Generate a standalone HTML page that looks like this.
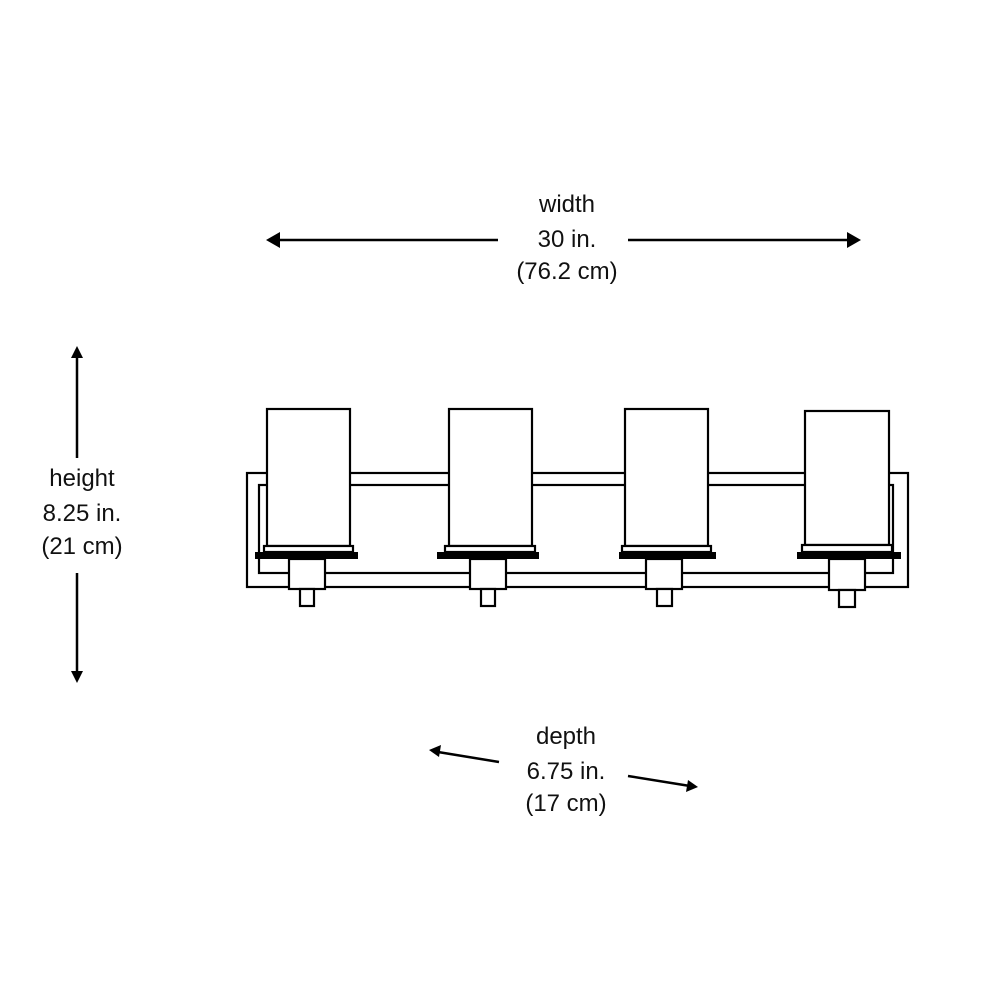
<!DOCTYPE html>
<html><head><style>body{margin:0;background:#fff}</style></head><body>
<svg width="1000" height="1000" xmlns="http://www.w3.org/2000/svg" style="display:block">
<rect width="1000" height="1000" fill="#fff"/>
<g font-family="Liberation Sans, sans-serif" font-size="24" fill="#111" text-anchor="middle">
<text x="567" y="212">width</text><text x="567" y="247">30 in.</text><text x="567" y="279">(76.2 cm)</text>
<text x="82" y="486">height</text><text x="82" y="521">8.25 in.</text><text x="82" y="554">(21 cm)</text>
<text x="566" y="744">depth</text><text x="566" y="779">6.75 in.</text><text x="566" y="811">(17 cm)</text>
</g>
<g stroke="#000" stroke-width="2.5" fill="none">
<line x1="275" y1="240" x2="498" y2="240"/><line x1="628" y1="240" x2="852" y2="240"/>
<line x1="77" y1="355" x2="77" y2="458"/><line x1="77" y1="573" x2="77" y2="675"/>
<line x1="438" y1="752" x2="499" y2="762"/><line x1="628" y1="776" x2="690" y2="786"/>
</g>
<g fill="#000">
<polygon points="266,240 280,232 280,248"/><polygon points="861,240 847,232 847,248"/>
<polygon points="77,346 71,358 83,358"/><polygon points="77,683 71,671 83,671"/>
<polygon points="429,750 441,745 439,757"/><polygon points="698,787 686,792 688,780"/>
<circle cx="541" cy="522" r="2.2"/><circle cx="615" cy="522" r="2.2"/>
</g>
<g stroke="#000" stroke-width="2.2" fill="#fff">
<rect x="247" y="473" width="661" height="114"/>
<rect x="259" y="485" width="634" height="88"/>
</g>
<g stroke="#000" stroke-width="2.2" fill="#fff">
<rect x="267" y="409" width="83" height="137"/><rect x="264" y="546" width="89" height="6"/>
<rect x="289" y="559" width="36" height="30"/><rect x="300" y="589" width="14" height="17"/>
<rect x="449" y="409" width="83" height="137"/><rect x="445" y="546" width="90" height="6"/>
<rect x="470" y="559" width="36" height="30"/><rect x="481" y="589" width="14" height="17"/>
<rect x="625" y="409" width="83" height="137"/><rect x="622" y="546" width="89" height="6"/>
<rect x="646" y="559" width="36" height="30"/><rect x="657" y="589" width="15" height="17"/>
<rect x="805" y="411" width="84" height="134"/><rect x="802" y="545" width="90" height="7"/>
<rect x="829" y="559" width="36" height="31"/><rect x="839" y="590" width="16" height="17"/>
</g>
<g fill="#000">
<rect x="255" y="552" width="103" height="7"/><rect x="437" y="552" width="102" height="7"/>
<rect x="619" y="552" width="97" height="7"/><rect x="797" y="552" width="104" height="7"/>
</g>
</svg>
</body></html>
